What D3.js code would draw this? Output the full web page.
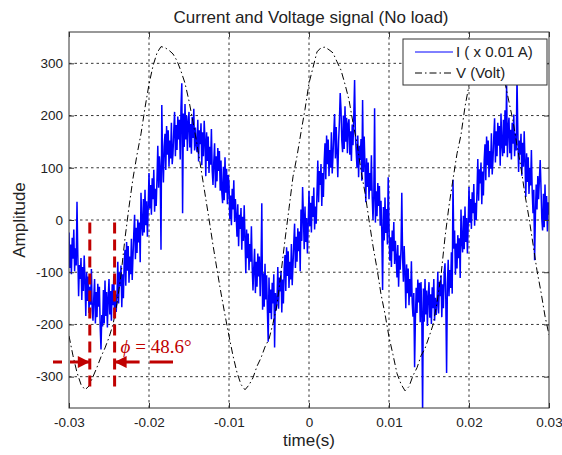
<!DOCTYPE html>
<html>
<head>
<meta charset="utf-8">
<script src="https://cdn.jsdelivr.net/npm/d3@7"></script>
<style>
body { margin: 0; background: #fff; }
text { font-family: "Liberation Sans", Arial, sans-serif; }
</style>
</head>
<body>
<svg width="562" height="455"></svg>
<script>
// sampling of the two traces (seconds)
var t0 = -0.03, dtV = 0.0005, dtI = 0.0001;

// voltage (Volt), one sample every 0.5 ms
var voltage = [-222,-260,-292,-315,-325,-318,-300,-282,-262,-245,-225,-200,-160,-105,-35,25,80,125,165,215,
  260,295,320,332,330,325,318,305,285,262,228,188,145,98,50,2,-48,-95,-140,-182,-222,-260,-292,-315,-325,
  -316,-302,-280,-264,-243,-228,-198,-162,-102,-38,22,83,122,168,212,262,292,322,330,331,326,320,303,287,260,
  230,186,147,95,52,0,-50,-93,-142,-180,-224,-258,-294,-314,-327,
  -319,-298,-283,-260,-246,-224,-201,-158,-106,-33,27,78,127,163,217,258,297,318,333,329,324,317,306,284,263,
  226,190,143,100,48,4,-46,-97,-138,-184,-220];

// current (x 0.01 A), one sample every 0.1 ms
var current = [
  -24,-92,-47,-104,-34,-74,-18,-98,-54,-87,
  35,-66,-146,-86,-113,-73,-153,-90,-136,-68,
  -115,-184,-100,-155,-108,-178,-128,-162,-94,-173,
  -193,-148,-113,-198,-138,-186,-122,-166,-128,-204,
  -248,-182,-204,-134,-198,-116,-184,-138,-206,-150,
  -113,-181,-136,-193,-123,-163,-107,-187,-143,-176,
  -142,-80,-160,-100,-127,-87,-167,-104,-150,-82,
  -57,-126,-42,-97,-50,-120,-70,-104,-36,-115,
  -70,-25,10,-75,-15,-63,1,-43,-5,-81,
  52,-8,-30,40,-24,58,-10,36,-32,24,
  90,22,67,10,80,40,96,16,60,27,
  80,142,62,122,95,-57,220,118,72,140,
  165,96,180,125,172,102,152,118,186,107,
  127,172,207,122,182,134,198,154,192,116,
  216,262,13,204,140,222,154,200,132,188,
  207,139,184,127,197,157,213,133,177,144,
  130,192,112,172,145,185,105,168,122,190,
  153,84,168,113,160,90,140,106,174,95,
  67,112,147,62,122,74,138,94,132,56,
  114,54,32,102,38,120,52,98,30,86,
  70,2,47,-10,60,20,76,-4,40,7,
  -32,30,-50,10,-17,23,-57,6,-40,28,
  -33,-102,-18,-73,-26,-96,-46,-80,-12,-91,
  -135,-90,-55,-140,-80,-128,-64,-108,-70,-146,
  -90,32,-172,-102,-166,-84,-152,-106,-174,-233,
  -110,-178,-133,-190,-120,-160,-104,-244,-140,-173,
  -152,-90,-170,-110,-137,-97,-177,-114,-160,-92,
  -67,-136,-52,-107,-60,-130,-80,-114,-46,-125,
  -87,-42,-7,-92,-32,-80,-16,-60,-22,-98,
  20,-40,63,8,-56,26,-42,4,-64,-8,
  56,-12,33,-24,46,6,62,-18,26,-7,
  52,114,34,94,67,107,27,90,44,112,
  147,78,162,107,154,84,134,100,168,89,
  123,168,203,118,178,130,82,150,188,243,
  212,152,130,200,136,218,150,196,128,184,
  193,125,170,113,183,143,199,268,163,130,
  100,162,82,142,115,155,75,230,92,160,
  103,34,118,63,110,40,90,56,124,45,
  0,45,214,-5,55,7,71,27,65,-11,
  37,-23,-134,25,-39,43,-25,21,-47,82,
  -10,-78,-33,-90,-20,-60,-4,-84,-40,-73,
  -110,-48,-128,-68,-95,-55,52,-72,-118,-50,
  -100,-169,-85,-140,-93,-163,-113,-147,-79,-158,
  -185,-140,-282,-190,-130,-178,-114,-158,-120,-196,
  -119,-179,-370,-131,-195,-113,-181,-135,-203,-147,
  -119,-187,-142,-199,-129,-169,-113,-193,-149,-182,
  -161,-99,-179,-119,-146,-106,-186,-123,-169,-101,
  -83,-152,-293,-123,-76,-146,-96,-130,-62,-141,
  77,-55,-20,-105,-45,-93,-29,-73,-35,-111,
  20,-40,-62,8,-56,26,-42,4,-64,-8,
  63,-5,40,-17,53,13,69,-11,33,0,
  55,117,37,97,70,110,30,93,47,115,
  145,76,160,105,152,82,132,98,166,87,
  115,160,195,110,170,122,186,142,180,104,
  204,144,122,192,128,210,142,258,120,176,
  196,128,173,116,186,146,202,122,166,133,
  274,172,92,152,125,165,85,148,102,170,
  113,44,128,73,120,50,100,66,134,55,
  13,58,-77,8,68,20,84,40,78,115,
  62,2,-20,50,-14,68,0,46,-22,34,
  10];

var xTicks = [-0.03, -0.02, -0.01, 0, 0.01, 0.02, 0.03];
var yTicks = [-300, -200, -100, 0, 100, 200, 300];
var legendLabels = ["I ( x 0.01 A)", "V (Volt)"];

// phase-shift annotation
var phaseTimes = [-0.0274, -0.0243];
var phaseSpan = [-5, -330];
var arrowTimes = [-0.032, -0.017];
var arrowLevel = -272;
var phaseText = "48.6\u00b0";

var svg = d3.select("svg"),
    width = +svg.attr("width"),
    height = +svg.attr("height"),
    margin = {top: 32, right: 13, bottom: 47, left: 69};

var x = d3.scaleLinear()
    .domain([-0.03, 0.03])
    .range([margin.left, width - margin.right]);
var y = d3.scaleLinear()
    .domain([-360, 360])
    .range([height - margin.bottom, margin.top]);

var red = "#c00000";

svg.append("clipPath").attr("id", "clip")
  .append("rect")
    .attr("x", margin.left).attr("y", margin.top)
    .attr("width", x.range()[1] - x.range()[0])
    .attr("height", y.range()[0] - y.range()[1]);

// grid
var grid = svg.append("g")
    .attr("stroke", "#000")
    .attr("stroke-width", 0.8)
    .attr("stroke-dasharray", "2.5,3");
grid.selectAll(".gx").data(xTicks.slice(1, -1)).enter().append("line")
    .attr("x1", function(d) { return x(d); }).attr("x2", function(d) { return x(d); })
    .attr("y1", y.range()[0]).attr("y2", y.range()[1]);
grid.selectAll(".gy").data(yTicks).enter().append("line")
    .attr("y1", function(d) { return y(d); }).attr("y2", function(d) { return y(d); })
    .attr("x1", x.range()[0]).attr("x2", x.range()[1]);

var plot = svg.append("g").attr("clip-path", "url(#clip)");

plot.append("path")
    .datum(current)
    .attr("fill", "none")
    .attr("stroke", "#0000ff")
    .attr("stroke-width", 1.5)
    .attr("stroke-linejoin", "bevel")
    .attr("d", d3.line()
        .x(function(d, i) { return x(t0 + i * dtI); })
        .y(function(d) { return y(d); }));

plot.append("path")
    .datum(voltage)
    .attr("fill", "none")
    .attr("stroke", "#000")
    .attr("stroke-width", 1)
    .attr("stroke-dasharray", "7,3,1.5,3")
    .attr("d", d3.line()
        .x(function(d, i) { return x(t0 + i * dtV); })
        .y(function(d) { return y(d); }));

// axes, ticks pointing inward, on all four sides
function styleAxis(g) {
  g.select(".domain").remove();
  g.selectAll(".tick line").attr("stroke", "#333");
  g.selectAll(".tick text").attr("fill", "#222").attr("font-size", "13.5px");
}
svg.append("g")
    .attr("transform", "translate(0," + y.range()[0] + ")")
    .call(d3.axisBottom(x).tickValues(xTicks).tickSizeInner(-5).tickSizeOuter(0).tickPadding(9)
        .tickFormat(function(d) { return String(d); }))
    .call(styleAxis);
svg.append("g")
    .attr("transform", "translate(0," + y.range()[1] + ")")
    .call(d3.axisTop(x).tickValues(xTicks).tickSizeInner(-5).tickSizeOuter(0).tickFormat(""))
    .call(styleAxis);
svg.append("g")
    .attr("transform", "translate(" + x.range()[0] + ",0)")
    .call(d3.axisLeft(y).tickValues(yTicks).tickSizeInner(-5).tickSizeOuter(0).tickPadding(6)
        .tickFormat(function(d) { return String(d); }))
    .call(styleAxis);
svg.append("g")
    .attr("transform", "translate(" + x.range()[1] + ",0)")
    .call(d3.axisRight(y).tickValues(yTicks).tickSizeInner(-5).tickSizeOuter(0).tickFormat(""))
    .call(styleAxis);

svg.append("rect")
    .attr("x", x.range()[0]).attr("y", y.range()[1])
    .attr("width", x.range()[1] - x.range()[0])
    .attr("height", y.range()[0] - y.range()[1])
    .attr("fill", "none")
    .attr("stroke", "#333");

// phase annotation
svg.append("defs").append("marker")
    .attr("id", "arrow")
    .attr("viewBox", "0 0 10 10")
    .attr("refX", 10).attr("refY", 5)
    .attr("markerWidth", 4.5).attr("markerHeight", 4)
    .attr("markerUnits", "strokeWidth")
    .attr("orient", "auto-start-reverse")
  .append("path")
    .attr("d", "M0,0L10,5L0,10z")
    .attr("fill", red);

svg.append("g").selectAll("line").data(phaseTimes).enter().append("line")
    .attr("x1", function(d) { return x(d); }).attr("x2", function(d) { return x(d); })
    .attr("y1", y(phaseSpan[0])).attr("y2", y(phaseSpan[1]))
    .attr("stroke", red)
    .attr("stroke-width", 3)
    .attr("stroke-dasharray", "11,6");

svg.append("line")
    .attr("x1", x(arrowTimes[0])).attr("x2", x(phaseTimes[0]))
    .attr("y1", y(arrowLevel)).attr("y2", y(arrowLevel))
    .attr("stroke", red).attr("stroke-width", 3)
    .attr("stroke-dasharray", "9,8,40")
    .attr("marker-end", "url(#arrow)");
svg.append("line")
    .attr("x1", x(phaseTimes[1])).attr("x2", x(arrowTimes[1]))
    .attr("y1", y(arrowLevel)).attr("y2", y(arrowLevel))
    .attr("stroke", red).attr("stroke-width", 3)
    .attr("stroke-dasharray", "25,10,40")
    .attr("marker-start", "url(#arrow)");

var pt = svg.append("text")
    .attr("x", x(phaseTimes[1]) + 6)
    .attr("y", y(arrowLevel) - 9)
    .attr("fill", red)
    .style("font-family", "'Liberation Serif','Times New Roman',serif")
    .attr("font-size", "19px");
pt.append("tspan").attr("font-style", "italic").text("\u03d5");
pt.append("tspan").text(" = " + phaseText);

// legend
var legend = svg.append("g");
legend.append("rect")
    .attr("x", 403).attr("y", 39).attr("width", 144).attr("height", 46)
    .attr("fill", "#fff").attr("stroke", "#333");
var rows = legend.selectAll(".row").data(legendLabels).enter().append("g")
    .attr("transform", function(d, i) { return "translate(0," + (52 + i * 21) + ")"; });
rows.append("line")
    .attr("x1", 415).attr("x2", 453)
    .attr("stroke", function(d, i) { return i ? "#000" : "#0000ff"; })
    .attr("stroke-dasharray", function(d, i) { return i ? "7,3,1.5,3" : null; });
rows.append("text")
    .attr("x", 456).attr("dy", "0.35em")
    .attr("font-size", "15px").attr("fill", "#222")
    .text(function(d) { return d; });

// titles
svg.append("text")
    .attr("x", (x.range()[0] + x.range()[1]) / 2 + 2).attr("y", 23)
    .attr("text-anchor", "middle").attr("font-size", "17px").attr("fill", "#222")
    .text("Current and Voltage signal (No load)");
svg.append("text")
    .attr("x", (x.range()[0] + x.range()[1]) / 2).attr("y", 446)
    .attr("text-anchor", "middle").attr("font-size", "17px").attr("fill", "#222")
    .text("time(s)");
svg.append("text")
    .attr("transform", "translate(25," + ((y.range()[0] + y.range()[1]) / 2) + ") rotate(-90)")
    .attr("text-anchor", "middle").attr("font-size", "17px").attr("fill", "#222")
    .text("Amplitude");
</script>
</body>
</html>
